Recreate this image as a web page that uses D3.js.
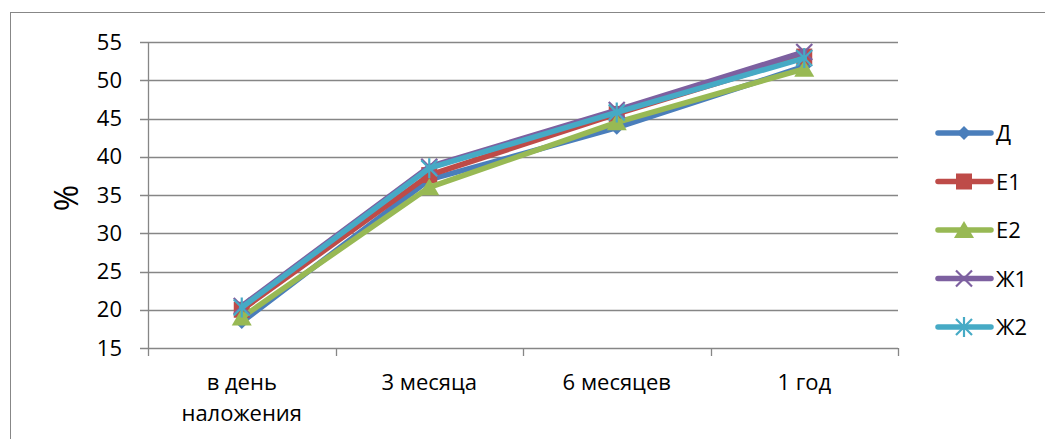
<!DOCTYPE html>
<html><head><meta charset="utf-8">
<script src="https://cdn.jsdelivr.net/npm/d3@7"></script>
<style>body{margin:0;background:#fff}svg{display:block}</style>
</head><body>
<script>
const categories = [["в день","наложения"],["3 месяца"],["6 месяцев"],["1 год"]];
const seriesNames = ["Д","Е1","Е2","Ж1","Ж2"];
const seriesColors = ["#4a7ebb","#be4b48","#98b954","#7d60a0","#46aac5"];
const seriesMarkers = ["diamond","square","triangle","x","star"];
const valД  = [18.4, 37.0, 43.8, 51.8];
const valЕ1 = [20.0, 37.6, 45.6, 53.1];
const valЕ2 = [19.0, 36.0, 44.5, 51.5];
const valЖ1 = [20.5, 38.7, 46.1, 53.7];
const valЖ2 = [20.3, 38.5, 45.8, 52.9];
const yTicks = [15,20,25,30,35,40,45,50,55];
const seriesValues = [valД, valЕ1, valЕ2, valЖ1, valЖ2];

const W = 1045, H = 439;
const font = "'Open Sans', sans-serif";
const fs = 22;
const svg = d3.select("body").append("svg").attr("width", W).attr("height", H);
svg.append("rect").attr("x",10.5).attr("y",12.5).attr("width",W).attr("height",H)
  .attr("fill","#fff").attr("stroke","#878787").attr("stroke-width",1);

const x0 = 148, x1 = 898;
const x = d3.scaleBand().domain(d3.range(categories.length)).range([x0, x1]).padding(0);
const y = d3.scaleLinear().domain([15,55]).range([348,42]);

const grid = svg.append("g");
yTicks.forEach(t => {
  grid.append("line").attr("x1", x0-8).attr("x2", x1).attr("y1", Math.round(y(t))+0.5).attr("y2", Math.round(y(t))+0.5)
    .attr("stroke","#868686").attr("stroke-width",1.3);
  svg.append("text").attr("x",122).attr("y",y(t)+7.5).attr("text-anchor","end")
    .attr("font-family",font).attr("font-size",fs).attr("fill","#000").text(t);
});
svg.append("line").attr("x1",x0+0.5).attr("x2",x0+0.5).attr("y1",y(55)).attr("y2",y(15))
  .attr("stroke","#868686").attr("stroke-width",1.3);
const xt = d3.range(categories.length+1).map(i => x0 + i*x.bandwidth());
xt.forEach(v => svg.append("line").attr("x1",Math.round(v)+0.5).attr("x2",Math.round(v)+0.5)
  .attr("y1",y(15)).attr("y2",y(15)+8).attr("stroke","#868686").attr("stroke-width",1.3));

categories.forEach((c,i) => {
  c.forEach((ln,j) => svg.append("text").attr("x", x(i)+x.bandwidth()/2).attr("y", 390 + j*31)
    .attr("text-anchor","middle").attr("font-family",font).attr("font-size",fs).attr("fill","#000").text(ln));
});

svg.append("text").attr("transform","translate(78,198) rotate(-90)").attr("text-anchor","middle")
  .attr("font-family",font).attr("font-size",32).attr("fill","#000").text("%");

const cx = i => x(i) + x.bandwidth()/2;
const line = d3.line().x((d,i)=>cx(i)).y(d=>y(d));

function marker(g, type, color, px, py) {
  if (type==="diamond") {
    g.append("path").attr("d",`M${px},${py-7}L${px+7},${py}L${px},${py+7}L${px-7},${py}Z`).attr("fill",color);
  } else if (type==="square") {
    g.append("rect").attr("x",px-8).attr("y",py-8).attr("width",16).attr("height",16).attr("fill",color);
  } else if (type==="triangle") {
    g.append("path").attr("d",`M${px},${py-9}L${px+10},${py+8}L${px-10},${py+8}Z`).attr("fill",color);
  } else if (type==="x") {
    g.append("path").attr("d",`M${px-8},${py-8}L${px+8},${py+8}M${px+8},${py-8}L${px-8},${py+8}`)
      .attr("stroke",color).attr("stroke-width",2.2);
  } else if (type==="star") {
    g.append("path").attr("d",`M${px-8},${py-8}L${px+8},${py+8}M${px+8},${py-8}L${px-8},${py+8}M${px},${py-10}L${px},${py+10}`)
      .attr("stroke",color).attr("stroke-width",2.2);
  }
}

seriesValues.forEach((vals,s) => {
  const g = svg.append("g");
  g.append("path").attr("d", line(vals)).attr("fill","none").attr("stroke",seriesColors[s])
    .attr("stroke-width",5.5).attr("stroke-linejoin","round").attr("stroke-linecap","round");
  vals.forEach((v,i)=> marker(g, seriesMarkers[s], seriesColors[s], cx(i), y(v)));
});

// legend
seriesNames.forEach((n,s) => {
  const ly = 133 + s*48.5;
  const g = svg.append("g");
  g.append("line").attr("x1",938).attr("x2",991).attr("y1",ly).attr("y2",ly)
    .attr("stroke",seriesColors[s]).attr("stroke-width",5.5).attr("stroke-linecap","round");
  marker(g, seriesMarkers[s], seriesColors[s], 964, ly);
  g.append("text").attr("x",996).attr("y",ly+8).attr("font-family",font).attr("font-size",fs)
    .attr("fill","#000").text(n);
});
</script>
</body></html>
